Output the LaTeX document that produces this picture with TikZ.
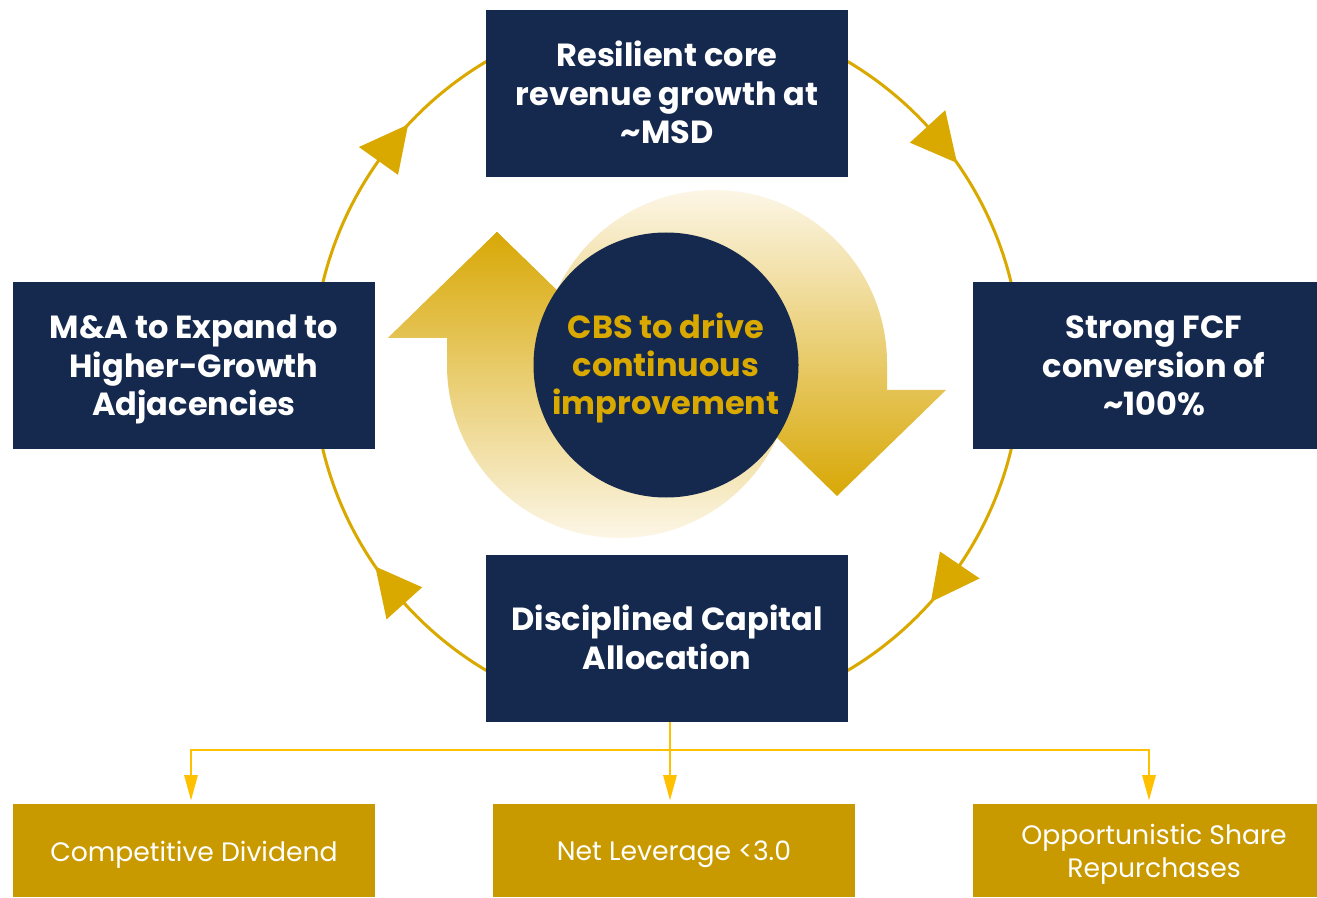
\documentclass[tikz,border=0pt]{standalone}
\usepackage{fontspec}
\setmainfont{Poppins}
\usetikzlibrary{arrows.meta,calc}
\definecolor{navy}{HTML}{15294E}
\definecolor{ringgold}{HTML}{DAA900}
\definecolor{boxgold}{HTML}{C99A00}
\definecolor{linegold}{HTML}{FFC000}
\definecolor{cream}{HTML}{FCF6E6}
\definecolor{arrowgold}{HTML}{D8A806}
\definecolor{cbsgold}{HTML}{DAA900}
\newcommand\ntop{\rule{0pt}{24.2pt}}
\newcommand\nbot{\rule[-6.8pt]{0pt}{6.8pt}}
\newcommand\gtop{\rule{0pt}{21pt}}
\newcommand\gbot{\rule[-5.2pt]{0pt}{5.2pt}}
\begin{document}
\begin{tikzpicture}[x=0.75pt,y=-0.75pt,
  navybox/.style={rectangle, fill=navy, text=white, align=center, inner sep=0pt,
    font=\bfseries\fontsize{24}{28.7}\selectfont, minimum width=271.5pt, minimum height=125.25pt},
  goldbox/.style={rectangle, fill=boxgold, text=white, align=center, inner sep=0pt,
    font=\fontsize{20}{24.5}\selectfont, minimum width=271.5pt, minimum height=69.75pt},
  ring/.style={draw=ringgold, line width=2.25pt},
  ringtip/.style={fill=ringgold},
  conn/.style={draw=linegold, line width=1.5pt},
  connarrow/.style={conn, -{Triangle[length=19pt,width=10pt]}, shorten >=2.5pt},
  hubcircle/.style={circle, fill=navy, text=cbsgold, align=center, inner sep=0pt,
    font=\bfseries\fontsize{24}{28.7}\selectfont, minimum size=198.75pt}
]
\useasboundingbox (0,0) rectangle (1317,898);
\fill[white] (0,0) rectangle (1317,898);

% outer ring
\coordinate (C) at (667,366);
\draw[ring] (C) circle (354);

% central circular arrows
\shade[top color=arrowgold, bottom color=cream]
  (497,232) -- (388,338) -- (447,338) -- (447,365)
  arc[start angle=180, end angle=10, radius=173]
  -- ($(620,365)+(10:72)$) arc[start angle=10, end angle=180, radius=72]
  -- (548,338) -- (606,338) -- cycle;
\shade[top color=cream, bottom color=arrowgold]
  (837,496) -- (946,390) -- (887,390) -- (887,363)
  arc[start angle=0, end angle=-170, radius=173]
  -- ($(714,363)+(-170:72)$) arc[start angle=-170, end angle=0, radius=72]
  -- (786,390) -- (728,390) -- cycle;
\begin{scope}
  \clip (497,232) -- (388,338) -- (606,338) -- cycle;
  \shade[top color=arrowgold, bottom color=cream]
    (497,232) -- (388,338) -- (447,338) -- (447,365)
    arc[start angle=180, end angle=10, radius=173]
    -- ($(620,365)+(10:72)$) arc[start angle=10, end angle=180, radius=72]
    -- (548,338) -- (606,338) -- cycle;
\end{scope}

\node[hubcircle] (cbs) at (666,365) {\ntop CBS to drive\\continuous\\improvement\nbot};

% main boxes
\node[navybox] (top) at (667,93.5) {\ntop Resilient core\\revenue growth at\\\textasciitilde MSD\nbot};
\node[navybox] (left) at (194,365.5) {\ntop M\&A to Expand to\\Higher-Growth\\Adjacencies\nbot};
\node[navybox] (right) at (1154,365.5) {\ntop Strong FCF\\conversion of\\\textasciitilde 100\%\nbot};
\node[navybox] (bot) at (667,638.5) {\ntop Disciplined Capital\\Allocation\nbot};

% ring arrowheads (clockwise)
\foreach \a in {-137,-35,41.8,145.5}
  \fill[ringtip] ($(C)+(\a:354)$) -- ($(C)+({\a-7.6}:330)$) -- ($(C)+({\a-7.6}:378)$) -- cycle;

% bottom boxes
\node[goldbox] (g1) at (194,850.5) {\gtop Competitive Dividend\gbot};
\node[goldbox] (g2) at (674,850.5) {\gtop Net Leverage <3.0\gbot};
\node[goldbox] (g3) at (1154,850.5) {\gtop Opportunistic Share\\Repurchases\gbot};

% connectors
\coordinate (j) at (670,750);
\draw[conn] (bot.south -| j) -- (j);
\draw[connarrow] (j) -| ([xshift=-2.25pt]g1.north);
\draw[connarrow] (j) -- (j |- g2.north);
\draw[connarrow] (j) -| ([xshift=-3.75pt]g3.north);
\end{tikzpicture}
\end{document}
